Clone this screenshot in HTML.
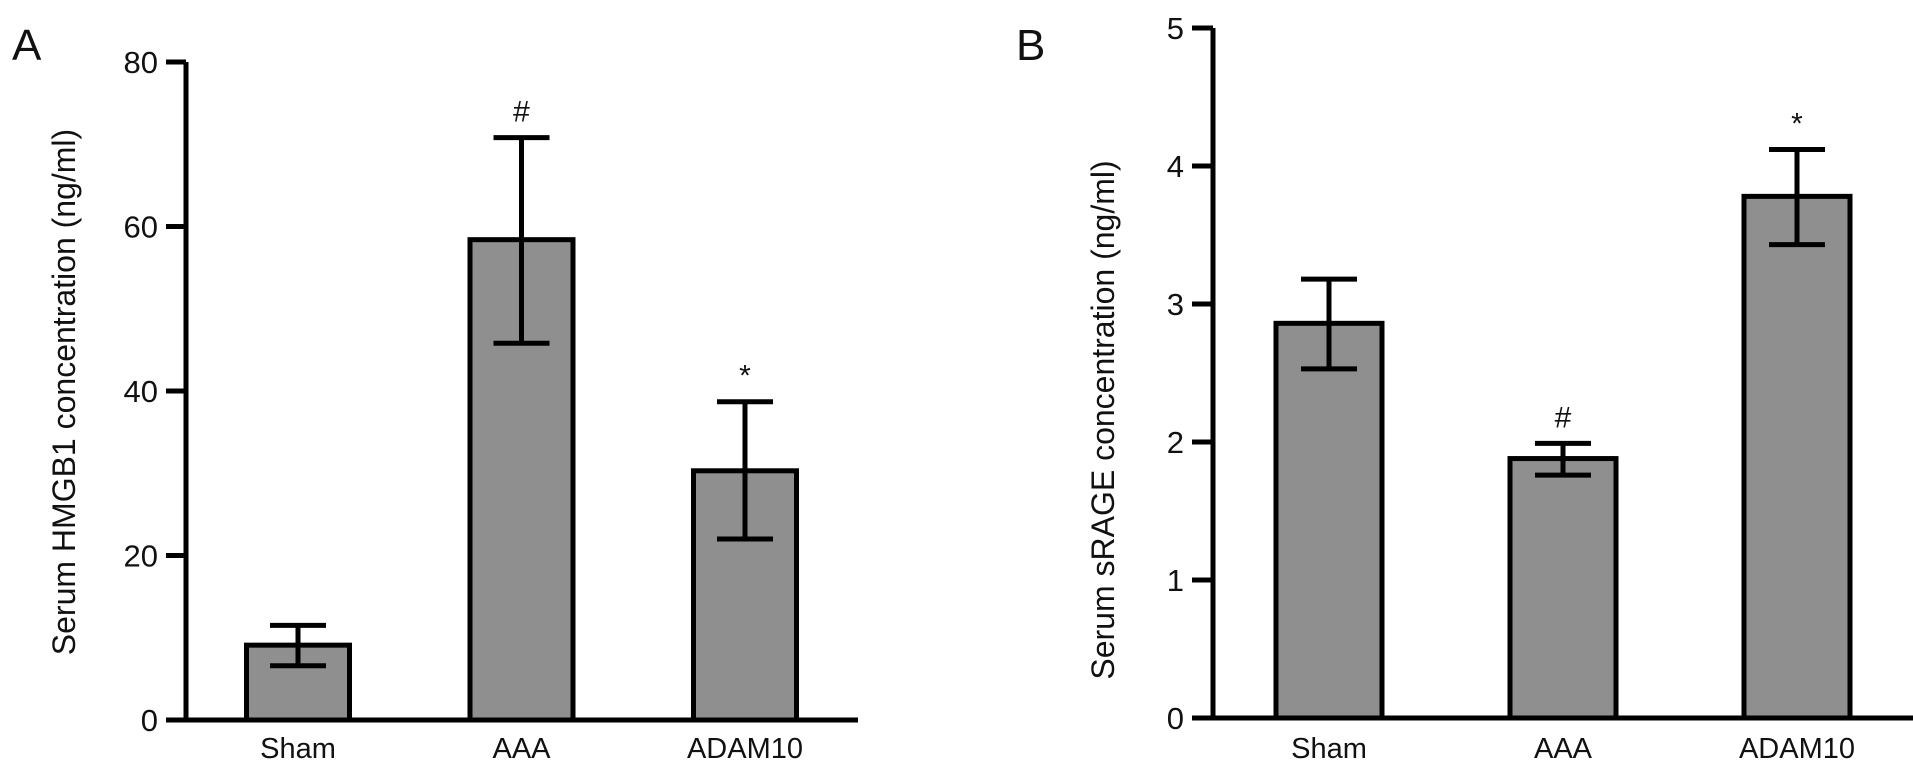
<!DOCTYPE html>
<html><head><meta charset="utf-8"><style>
html,body{margin:0;padding:0;background:#fff;width:1913px;height:780px;overflow:hidden}
svg text{font-family:"Liberation Sans",Arial,sans-serif;fill:#111}
</style></head><body>
<svg id="chart" width="1913" height="780" viewBox="0 0 1913 780" xmlns="http://www.w3.org/2000/svg"></svg>
<script>
const categories = ["Sham", "AAA", "ADAM10"];
const hmgbValues = [9.1, 58.4, 30.3];
const hmgbUpper = [11.5, 70.8, 38.7];
const hmgbLower = [6.6, 45.8, 22.0];
const hmgbMarks = ["", "#", "*"];
const hmgbTicks = [0, 20, 40, 60, 80];
const sragValues = [2.86, 1.88, 3.78];
const sragUpper = [3.18, 1.99, 4.12];
const sragLower = [2.53, 1.76, 3.43];
const sragMarks = ["", "#", "*"];
const sragTicks = [0, 1, 2, 3, 4, 5];

const NS = "http://www.w3.org/2000/svg";
const svg = document.getElementById("chart");
function mk(tag, attrs, parent, text) {
  const e = document.createElementNS(NS, tag);
  for (const k in attrs) e.setAttribute(k, attrs[k]);
  if (text !== undefined) e.textContent = text;
  (parent || svg).appendChild(e);
  return e;
}

function panel(cfg) {
  const g = mk("g", {});
  
  
  const yMax = cfg.ticks[cfg.ticks.length - 1];
  const y = v => cfg.y0 - (v / yMax) * (cfg.y0 - cfg.yTop);
  const x = i => cfg.xFirst + i * cfg.step;
  const L = mk("text", {x: cfg.letterX, y: 60, "font-size": 44}, g, cfg.letter);
  
  
  cfg.values.forEach((v, i) => {
    const cx = x(i);
    const r = mk("rect", {x: cx - cfg.bw / 2, y: y(v), width: cfg.bw, height: cfg.y0 - y(v), fill: "#8f8f8f", stroke: "#000", "stroke-width": 5}, g);
    
    
    const eb = mk("path", {d: `M${cx},${y(cfg.upper[i])}V${y(cfg.lower[i])}M${cx - 28},${y(cfg.upper[i])}h56M${cx - 28},${y(cfg.lower[i])}h56`, stroke: "#000", "stroke-width": 5, fill: "none"}, g);
    
    
    if (cfg.marks[i]) {
      const m = mk("text", {x: cx, y: y(cfg.upper[i]) - 16, "font-size": 30, "text-anchor": "middle"}, g, cfg.marks[i]);
      
      
    }
    const t = mk("text", {x: cx, y: 758, "font-size": 29, "text-anchor": "middle"}, g, categories[i]);
    
    
  });
  const ax = mk("path", {d: `M${cfg.axX},${cfg.yTop}V${cfg.y0}M${cfg.tickX},${cfg.y0}H${cfg.axEnd}`, stroke: "#000", "stroke-width": 5, fill: "none"}, g);
  
  
  cfg.ticks.forEach(tv => {
    const tk = mk("line", {x1: cfg.tickX, x2: cfg.axX, y1: y(tv), y2: y(tv), stroke: "#000", "stroke-width": 5}, g);
    
    
    const tl = mk("text", {x: cfg.tickX - 8, y: y(tv) + 11, "font-size": 31, "text-anchor": "end"}, g, tv);
    
    
  });
  const yt = mk("text", {x: 0, y: 0, "font-size": 32, "text-anchor": "middle", transform: `translate(${cfg.titleX},${cfg.titleY}) rotate(-90)`}, g, cfg.title);
  
  
}

panel({name: "panel-a-hmgb1", letter: "A", letterX: 12, values: hmgbValues, upper: hmgbUpper, lower: hmgbLower, marks: hmgbMarks, ticks: hmgbTicks,
  y0: 720, yTop: 62, axX: 186, tickX: 166, axEnd: 858, xFirst: 298, step: 223.5, bw: 103,
  title: "Serum HMGB1 concentration  (ng/ml)", titleX: 75, titleY: 392});
panel({name: "panel-b-srage", letter: "B", letterX: 1016, values: sragValues, upper: sragUpper, lower: sragLower, marks: sragMarks, ticks: sragTicks,
  y0: 718, yTop: 28, axX: 1213, tickX: 1192, axEnd: 1913, xFirst: 1329, step: 234, bw: 106,
  title: "Serum sRAGE concentration (ng/ml)", titleX: 1114, titleY: 420});
</script>
</body></html>
